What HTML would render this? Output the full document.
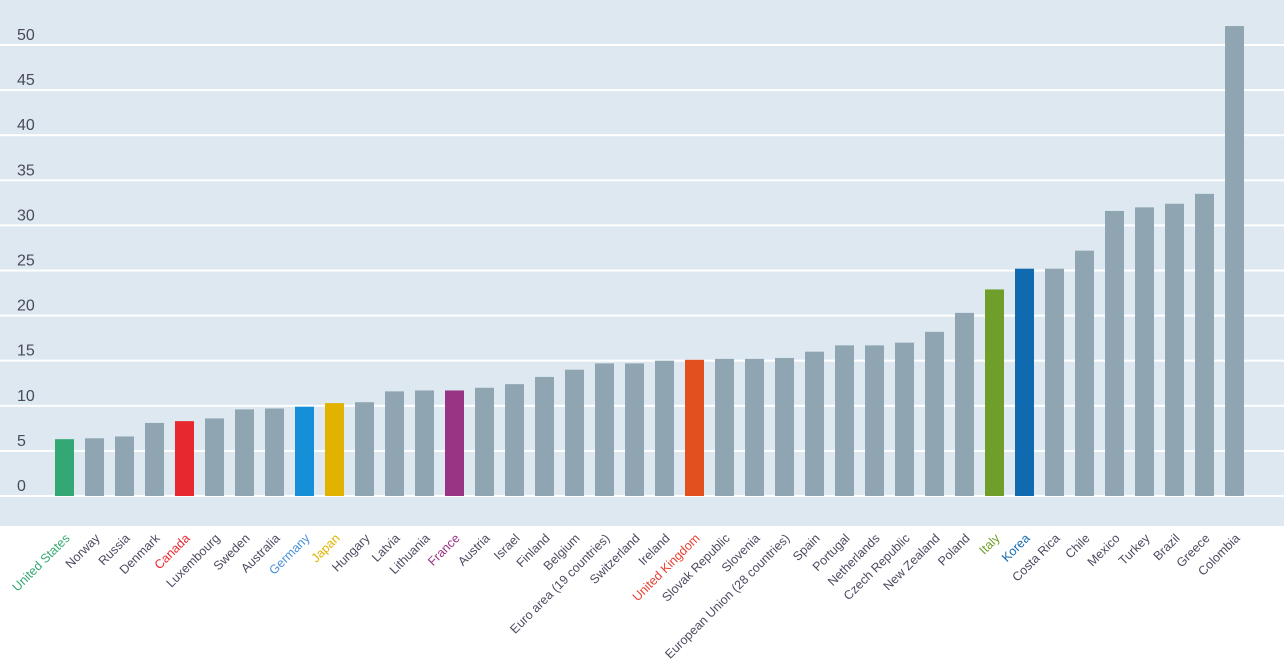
<!DOCTYPE html>
<html><head><meta charset="utf-8"><style>
body{margin:0;background:#fff;width:1284px;height:667px;overflow:hidden;font-family:"Liberation Sans",sans-serif}
</style></head><body>
<svg id="chart" width="1284" height="667" xmlns="http://www.w3.org/2000/svg">
<rect x="0" y="0" width="1284" height="526" fill="#dde8f1"/>
<g id="grid"></g><g id="bars"></g><g id="labels"></g>
</svg>
<script>
const categories=["United States","Norway","Russia","Denmark","Canada","Luxembourg","Sweden","Australia","Germany","Japan","Hungary","Latvia","Lithuania","France","Austria","Israel","Finland","Belgium","Euro area (19 countries)","Switzerland","Ireland","United Kingdom","Slovak Republic","Slovenia","European Union (28 countries)","Spain","Portugal","Netherlands","Czech Republic","New Zealand","Poland","Italy","Korea","Costa Rica","Chile","Mexico","Turkey","Brazil","Greece","Colombia"];
const values=[6.3,6.4,6.6,8.1,8.3,8.6,9.6,9.7,9.9,10.3,10.4,11.6,11.7,11.7,12.0,12.4,13.2,14.0,14.7,14.7,15.0,15.1,15.2,15.2,15.3,16.0,16.7,16.7,17.0,18.2,20.3,22.9,25.2,25.2,27.2,31.6,32.0,32.4,33.5,52.1];
const ticks=[0,5,10,15,20,25,30,35,40,45,50];
const highlight={"United States":"#34a874","Canada":"#e8282f","Germany":"#148fd8","Japan":"#e2b200","France":"#993485","United Kingdom":"#e25020","Italy":"#6f9e2a","Korea":"#106aaf"};
const labelHighlight={"United States":"#34a874","Canada":"#e8282f","Germany":"#4a90d8","Japan":"#e2b200","France":"#993485","United Kingdom":"#e8402f","Italy":"#6f9e2a","Korea":"#106aaf"};
const NS="http://www.w3.org/2000/svg";
const y=v=>496-v*9.02;
const x=i=>64.5+i*30;
const g=document.getElementById('grid'),b=document.getElementById('bars'),l=document.getElementById('labels');
ticks.forEach(t=>{
 const ln=document.createElementNS(NS,'rect');
 ln.setAttribute('x',0);ln.setAttribute('y',y(t)-1);ln.setAttribute('width',1284);ln.setAttribute('height',2);ln.setAttribute('fill','#fff');
 
 
 g.appendChild(ln);
 const tx=document.createElementNS(NS,'text');
 tx.setAttribute('x',17);tx.setAttribute('y',y(t)-5);tx.setAttribute('font-size','16');tx.setAttribute('fill','#4a4a5a');
 tx.textContent=t;
 
 
 g.appendChild(tx);
});
categories.forEach((c,i)=>{
 const r=document.createElementNS(NS,'rect');
 r.setAttribute('x',x(i)-9.5);r.setAttribute('y',y(values[i]));r.setAttribute('width',19);r.setAttribute('height',y(0)-y(values[i]));
 r.setAttribute('fill',highlight[c]||'#8fa5b1');
 
 
 b.appendChild(r);
 const t=document.createElementNS(NS,'text');
 t.setAttribute('transform','translate('+(x(i)+6)+',539) rotate(-45)');
 t.setAttribute('text-anchor','end');t.setAttribute('font-size','12.5');
 t.setAttribute('fill',labelHighlight[c]||'#4d4a60');
 t.textContent=c;
 
 
 l.appendChild(t);
});
</script>
</body></html>
